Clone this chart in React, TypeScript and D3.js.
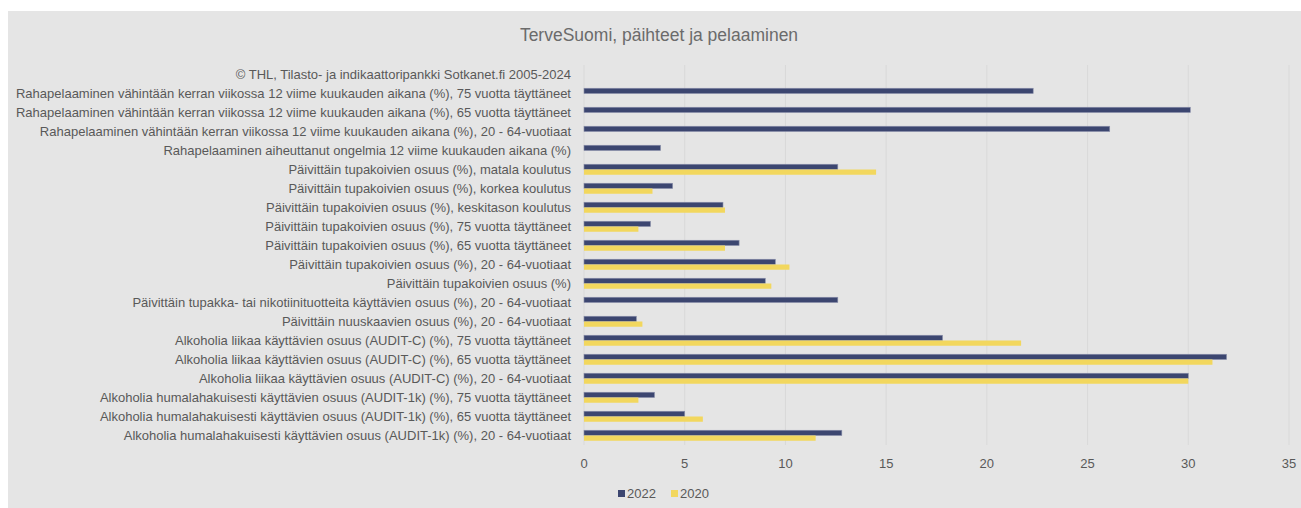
import React, { useEffect, useRef } from 'react';
import * as d3 from 'd3';

const categories = [
  '© THL, Tilasto- ja indikaattoripankki Sotkanet.fi 2005-2024',
  'Rahapelaaminen vähintään kerran viikossa 12 viime kuukauden aikana (%), 75 vuotta täyttäneet',
  'Rahapelaaminen vähintään kerran viikossa 12 viime kuukauden aikana (%), 65 vuotta täyttäneet',
  'Rahapelaaminen vähintään kerran viikossa 12 viime kuukauden aikana (%), 20 - 64-vuotiaat',
  'Rahapelaaminen aiheuttanut ongelmia 12 viime kuukauden aikana (%)',
  'Päivittäin tupakoivien osuus (%), matala koulutus',
  'Päivittäin tupakoivien osuus (%), korkea koulutus',
  'Päivittäin tupakoivien osuus (%), keskitason koulutus',
  'Päivittäin tupakoivien osuus (%), 75 vuotta täyttäneet',
  'Päivittäin tupakoivien osuus (%), 65 vuotta täyttäneet',
  'Päivittäin tupakoivien osuus (%), 20 - 64-vuotiaat',
  'Päivittäin tupakoivien osuus (%)',
  'Päivittäin tupakka- tai nikotiinituotteita käyttävien osuus (%), 20 - 64-vuotiaat',
  'Päivittäin nuuskaavien osuus (%), 20 - 64-vuotiaat',
  'Alkoholia liikaa käyttävien osuus (AUDIT-C) (%), 75 vuotta täyttäneet',
  'Alkoholia liikaa käyttävien osuus (AUDIT-C) (%), 65 vuotta täyttäneet',
  'Alkoholia liikaa käyttävien osuus (AUDIT-C) (%), 20 - 64-vuotiaat',
  'Alkoholia humalahakuisesti käyttävien osuus (AUDIT-1k) (%), 75 vuotta täyttäneet',
  'Alkoholia humalahakuisesti käyttävien osuus (AUDIT-1k) (%), 65 vuotta täyttäneet',
  'Alkoholia humalahakuisesti käyttävien osuus (AUDIT-1k) (%), 20 - 64-vuotiaat',
];

const values2022: (number | null)[] = [
  null, 22.3, 30.1, 26.1, 3.8, 12.6, 4.4, 6.9, 3.3, 7.7, 9.5, 9.0, 12.6, 2.6, 17.8, 31.9, 30.0, 3.5, 5.0, 12.8,
];
const values2020: (number | null)[] = [
  null, null, null, null, null, 14.5, 3.4, 7.0, 2.7, 7.0, 10.2, 9.3, null, 2.9, 21.7, 31.2, 30.0, 2.7, 5.9, 11.5,
];

const seriesNames = ['2022', '2020'];
const seriesColors = ['#3c4670', '#f2d75e'];
const xTicks = [0, 5, 10, 15, 20, 25, 30, 35];
const title = 'TerveSuomi, päihteet ja pelaaminen';

const W = 1301;
const H = 508;
const FONT = '"Liberation Sans Narrow", "Liberation Sans", sans-serif';

export default function App() {
  const svgRef = useRef<SVGSVGElement>(null);

  useEffect(() => {
    if (!svgRef.current) return;
    const svg = d3.select(svgRef.current);
    svg.selectAll('*').remove();

    // chart panel
    svg.append('rect')
      .attr('x', 8).attr('y', 11)
      .attr('width', W - 8).attr('height', H - 11)
      .attr('fill', '#e5e5e5');

    svg.append('text')
      .attr('x', 659).attr('y', 41)
      .attr('text-anchor', 'middle')
      .attr('font-family', FONT)
      .attr('font-size', 17.5)
      .attr('fill', '#6b6b6b')
      .text(title);

    const x = d3.scaleLinear().domain([0, 35]).range([584, 1289]);
    const y = d3.scaleBand<string>().domain(categories).range([65, 445]);
    const inner = d3.scaleBand<string>()
      .domain(seriesNames)
      .range([0, y.bandwidth()])
      .paddingInner(0)
      .paddingOuter(0.81);

    // gridlines
    svg.append('g')
      .selectAll('line')
      .data(xTicks)
      .enter().append('line')
      .attr('x1', d => x(d)).attr('x2', d => x(d))
      .attr('y1', 65).attr('y2', 445)
      .attr('stroke', '#d9d9d9')
      .attr('stroke-width', 1);

    // bars
    const seriesData = [values2022, values2020];
    seriesData.forEach((vals, si) => {
      svg.append('g')
        .selectAll('rect')
        .data(categories.map((c, i) => ({ c, v: vals[i] })).filter(d => d.v != null))
        .enter().append('rect')
        .attr('x', x(0))
        .attr('y', d => y(d.c)! + inner(seriesNames[si])!)
        .attr('width', d => x(d.v as number) - x(0))
        .attr('height', inner.bandwidth())
        .attr('fill', seriesColors[si])
        .attr('stroke', si === 0 ? '#8a90aa' : 'none')
        .attr('stroke-width', 0.6);
    });

    // category labels
    svg.append('g')
      .selectAll('text')
      .data(categories)
      .enter().append('text')
      .attr('x', 571)
      .attr('y', d => y(d)! + y.bandwidth() / 2 + 4)
      .attr('text-anchor', 'end')
      .attr('font-family', FONT)
      .attr('font-size', 13)
      .attr('fill', '#595959')
      .text(d => d);

    // x tick labels
    svg.append('g')
      .selectAll('text')
      .data(xTicks)
      .enter().append('text')
      .attr('x', d => x(d))
      .attr('y', 468)
      .attr('text-anchor', 'middle')
      .attr('font-family', FONT)
      .attr('font-size', 13)
      .attr('fill', '#595959')
      .text(d => d);

    // legend
    const legend = svg.append('g');
    const legendX = [618, 671];
    seriesNames.forEach((s, i) => {
      legend.append('rect')
        .attr('x', legendX[i]).attr('y', 490)
        .attr('width', 7).attr('height', 7)
        .attr('fill', seriesColors[i]);
      legend.append('text')
        .attr('x', legendX[i] + 9).attr('y', 498)
        .attr('font-family', FONT)
        .attr('font-size', 13)
        .attr('fill', '#595959')
        .text(s);
    });
  }, []);

  return (
    <svg
      ref={svgRef}
      width={W}
      height={H}
      style={{ position: 'absolute', left: 0, top: 0, display: 'block' }}
    />
  );
}
